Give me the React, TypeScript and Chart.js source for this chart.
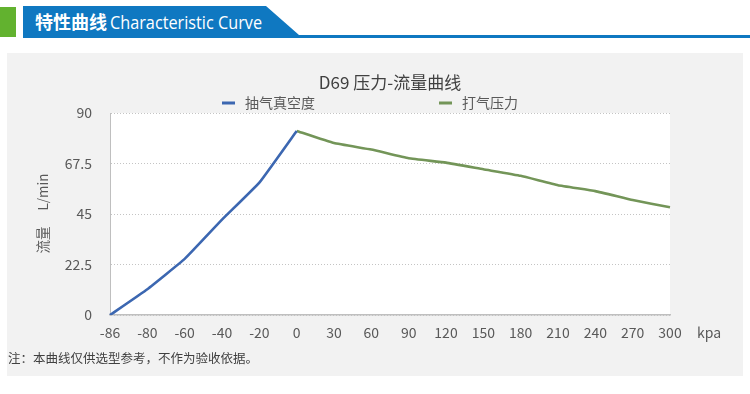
import React, { useEffect, useRef } from 'react';
import { Chart, registerables } from 'chart.js';

Chart.register(...registerables);

// ---------- data ----------
const categories = ['-86', '-80', '-60', '-40', '-20', '0', '30', '60', '90', '120', '150', '180', '210', '240', '270', '300'];
const seriesNames = ['抽气真空度', '打气压力'];
const suctionVacuum = [0, 11.5, 25, 42.5, 59, 82, null, null, null, null, null, null, null, null, null, null];
const blowPressure = [null, null, null, null, null, 82, 76.6, 73.7, 69.8, 67.9, 64.9, 62.0, 57.8, 55.2, 51.2, 48];
const yMin = 0;
const yMax = 90;
const yStep = 22.5;
const chartTitle = 'D69 压力-流量曲线';
const yTitleUnit = 'L/min';
const yTitleName = '流量';
const xUnit = 'kpa';
const noteText = '注：本曲线仅供选型参考，不作为验收依据。';
const headerCn = '特性曲线';
const headerEn = 'Characteristic Curve';

const COLORS = ['#3c67b1', '#739558'];
const FONT = "'Noto Sans CJK SC', 'Open Sans', sans-serif";
const TEXT = '#595959';

const decorPlugin = {
  id: 'decor',
  beforeDraw(chart: any) {
    const { ctx, chartArea: a } = chart;
    ctx.save();
    ctx.fillStyle = '#ffffff';
    ctx.fillRect(a.left, a.top, a.right - a.left, a.bottom - a.top);
    ctx.restore();
  },
  afterDraw(chart: any) {
    const { ctx, chartArea: a } = chart;
    const cx = (a.left + a.right) / 2;
    ctx.save();
    // title
    ctx.fillStyle = '#404040';
    ctx.font = `17px ${FONT}`;
    ctx.textAlign = 'center';
    ctx.textBaseline = 'middle';
    ctx.fillText(chartTitle, cx, 30);
    // legend
    const legendX = [215, 432];
    chart.data.datasets.forEach((ds: any, i: number) => {
      const x = legendX[i];
      const y = 50;
      ctx.strokeStyle = ds.borderColor;
      ctx.lineWidth = 3;
      ctx.beginPath();
      ctx.moveTo(x, y);
      ctx.lineTo(x + 13, y);
      ctx.stroke();
      ctx.fillStyle = TEXT;
      ctx.font = `14px ${FONT}`;
      ctx.textAlign = 'left';
      ctx.textBaseline = 'middle';
      ctx.fillText(ds.label, x + 23, y);
    });
    // y axis title
    ctx.fillStyle = TEXT;
    ctx.font = `13.5px ${FONT}`;
    ctx.textAlign = 'center';
    ctx.textBaseline = 'middle';
    ctx.save();
    ctx.translate(36, 139);
    ctx.rotate(-Math.PI / 2);
    ctx.fillText(yTitleUnit, 0, 0);
    ctx.restore();
    ctx.save();
    ctx.translate(36, 187);
    ctx.rotate(-Math.PI / 2);
    ctx.fillText(yTitleName, 0, 0);
    ctx.restore();
    // x unit
    ctx.font = `14px ${FONT}`;
    ctx.textAlign = 'left';
    ctx.fillText(xUnit, a.right + 27, 280);
    // note
    ctx.fillStyle = '#404040';
    ctx.font = `12.5px ${FONT}`;
    ctx.fillText(noteText, 1, 305);
    ctx.restore();
  },
};

function ChartPanel() {
  const ref = useRef<HTMLCanvasElement | null>(null);
  useEffect(() => {
    if (!ref.current) return;
    const chart = new Chart(ref.current, {
      type: 'line',
      data: {
        labels: categories,
        datasets: [
          {
            label: seriesNames[0],
            data: suctionVacuum,
            borderColor: COLORS[0],
            backgroundColor: COLORS[0],
            borderWidth: 2.6,
            pointRadius: 0,
            tension: 0.1,
            spanGaps: false,
          },
          {
            label: seriesNames[1],
            data: blowPressure,
            borderColor: COLORS[1],
            backgroundColor: COLORS[1],
            borderWidth: 2.6,
            pointRadius: 0,
            tension: 0.1,
            spanGaps: false,
          },
        ],
      },
      options: {
        animation: false,
        responsive: false,
        maintainAspectRatio: false,
        layout: { padding: { top: 60, left: 43, right: 73, bottom: 31 } },
        plugins: {
          legend: { display: false },
          title: { display: false },
          tooltip: { enabled: false },
        },
        scales: {
          x: {
            type: 'category',
            offset: false,
            grid: { display: false, drawTicks: false },
            border: { display: true, color: '#bfbfbf', width: 1.5 },
            ticks: {
              color: TEXT,
              font: { family: FONT, size: 14 },
              padding: 9,
              maxRotation: 0,
              autoSkip: false,
            },
            afterFit: (s: any) => {
              s.height = 30;
            },
          },
          y: {
            min: yMin,
            max: yMax,
            grid: { color: '#c4c4c4', lineWidth: 1, drawTicks: false },
            border: { display: true, color: '#bfbfbf', width: 1, dash: [1, 2] },
            ticks: {
              stepSize: yStep,
              color: TEXT,
              font: { family: FONT, size: 14 },
              padding: 18,
            },
            afterFit: (s: any) => {
              s.width = 60;
            },
          },
        },
      } as any,
      plugins: [decorPlugin],
    });
    return () => chart.destroy();
  }, []);
  return <canvas ref={ref} width={736} height={323} style={{ display: 'block', width: 736, height: 323 }} />;
}

export default function App() {
  return (
    <div style={{ position: 'absolute', left: 0, top: 0, width: 750, height: 394, background: '#ffffff', overflow: 'hidden' }}>
      <svg width={750} height={45} style={{ position: 'absolute', left: 0, top: 0 }}>
        <rect x={0} y={7} width={16} height={30} fill="#62b22f" />
        <polygon points="23,6 266,6 299,35 750,35 750,38 23,38" fill="#0f78c1" />
        <text x={35} y={29} fill="#ffffff" style={{ fontFamily: "'Noto Sans CJK SC', sans-serif", fontSize: 18, fontWeight: 700 }}>
          {headerCn}
        </text>
        <text
          x={110}
          y={29}
          fill="#ffffff"
          textLength={152}
          lengthAdjust="spacingAndGlyphs"
          style={{ fontFamily: "'Open Sans', sans-serif", fontSize: 19 }}
        >
          {headerEn}
        </text>
      </svg>
      <div style={{ position: 'absolute', left: 7, top: 53, width: 736, height: 323, background: '#f2f2f2' }}>
        <ChartPanel />
      </div>
    </div>
  );
}
